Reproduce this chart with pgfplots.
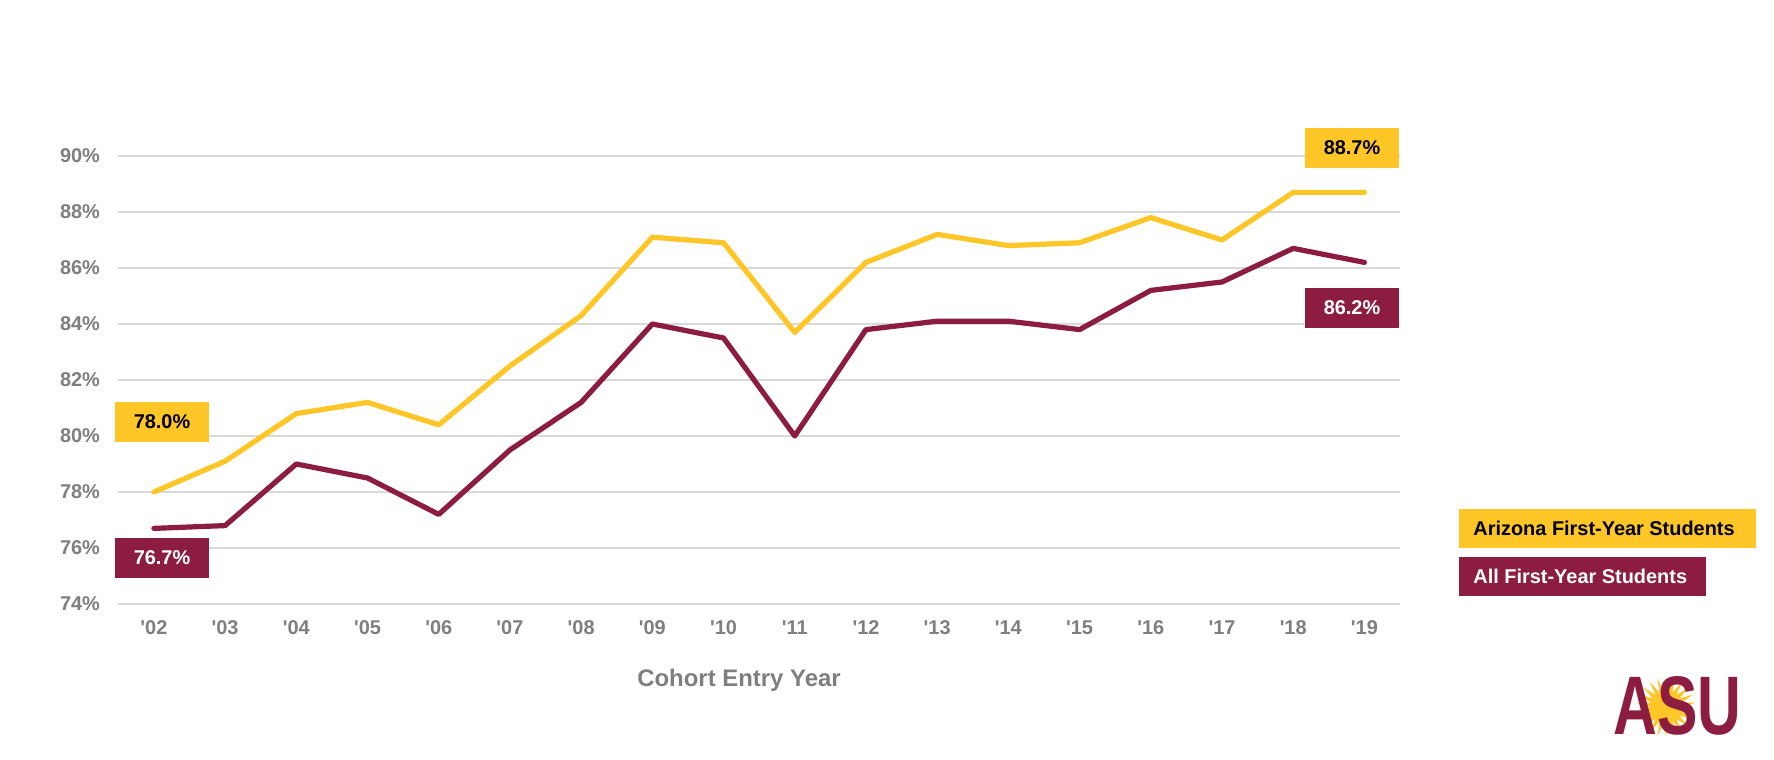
\documentclass[border=0pt]{standalone}
\usepackage{fontspec}
\setmainfont{Liberation Sans}
\usepackage{graphicx}
\usepackage{pgfplots}
\usepackage{pgfplotstable}
\pgfplotsset{compat=1.18}
\usetikzlibrary{shapes.geometric}
\definecolor{asugold}{HTML}{FFC627}
\definecolor{asumaroon}{HTML}{8C1D40}
\definecolor{tickgray}{HTML}{7F7F7F}
\definecolor{gridgray}{HTML}{D9D9D9}
\newcommand\q{\textquotesingle}

\pgfplotstableread{
x az all
0 78.0 76.7
1 79.1 76.8
2 80.8 79.0
3 81.2 78.5
4 80.4 77.2
5 82.5 79.5
6 84.3 81.2
7 87.1 84.0
8 86.9 83.5
9 83.7 80.0
10 86.2 83.8
11 87.2 84.1
12 86.8 84.1
13 86.9 83.8
14 87.8 85.2
15 87.0 85.5
16 88.7 86.7
17 88.7 86.2
}\datatable

\begin{document}
\begin{tikzpicture}
\useasboundingbox (0,0) rectangle (887bp,380bp);
\fill[white] (0,0) rectangle (887bp,380bp);
\begin{axis}[
  at={(59.15bp,78bp)}, anchor=south west,
  scale only axis, width=640.85bp, height=224bp,
  xmin=-0.5, xmax=17.5, ymin=74, ymax=90,
  clip=false,
  axis line style={draw=none},
  major tick length=0pt,
  xtick={0,1,...,17},
  xticklabels={\q02,\q03,\q04,\q05,\q06,\q07,\q08,\q09,\q10,\q11,\q12,\q13,\q14,\q15,\q16,\q17,\q18,\q19},
  ytick={74,76,...,90},
  yticklabels={74\%,76\%,78\%,80\%,82\%,84\%,86\%,88\%,90\%},
  ymajorgrids,
  grid style={gridgray, line width=1bp},
  ticklabel style={font=\fontsize{10}{12}\selectfont\bfseries, text=tickgray},
  xticklabel style={inner sep=0pt, anchor=center, yshift=-12bp},
  yticklabel style={inner sep=0pt, anchor=east, xshift=-9bp},
]
\addplot[asugold, line width=2.6bp, line cap=round, line join=round] table[x=x, y=az] {\datatable};
\addplot[asumaroon, line width=2.6bp, line cap=round, line join=round] table[x=x, y=all] {\datatable};
\end{axis}

% value boxes
\tikzset{vbox/.style={inner sep=0pt, minimum height=20bp, minimum width=47bp, font=\fontsize{10}{12}\selectfont\bfseries}}
\node[vbox, fill=asugold, text=black] at (81bp,169bp) {78.0\%};
\node[vbox, fill=asumaroon, text=white] at (81bp,101bp) {76.7\%};
\node[vbox, fill=asugold, text=black] at (676bp,306bp) {88.7\%};
\node[vbox, fill=asumaroon, text=white] at (676bp,226.2bp) {86.2\%};

% legend
\fill[asugold] (729.5bp,106.15bp) rectangle (878bp,125.5bp);
\node[anchor=west, inner sep=0pt, font=\fontsize{10}{12}\selectfont\bfseries, text=black] at (736.5bp,115.8bp) {Arizona First-Year Students};
\fill[asumaroon] (729.5bp,82.15bp) rectangle (853bp,101.35bp);
\node[anchor=west, inner sep=0pt, font=\fontsize{10}{12}\selectfont\bfseries, text=white] at (736.5bp,91.75bp) {All First-Year Students};

% axis title
\node[font=\fontsize{12}{14}\selectfont\bfseries, text=tickgray] at (369.5bp,40bp) {Cohort Entry Year};

% logo
\node[star, star points=22, star point ratio=1.9, fill=asugold, minimum size=30bp, inner sep=0pt] at (833bp,26.5bp) {};
\node[text=asumaroon, inner sep=0pt] at (838.75bp,27bp) {\resizebox{64bp}{29bp}{\bfseries ASU}};
\end{tikzpicture}
\end{document}
